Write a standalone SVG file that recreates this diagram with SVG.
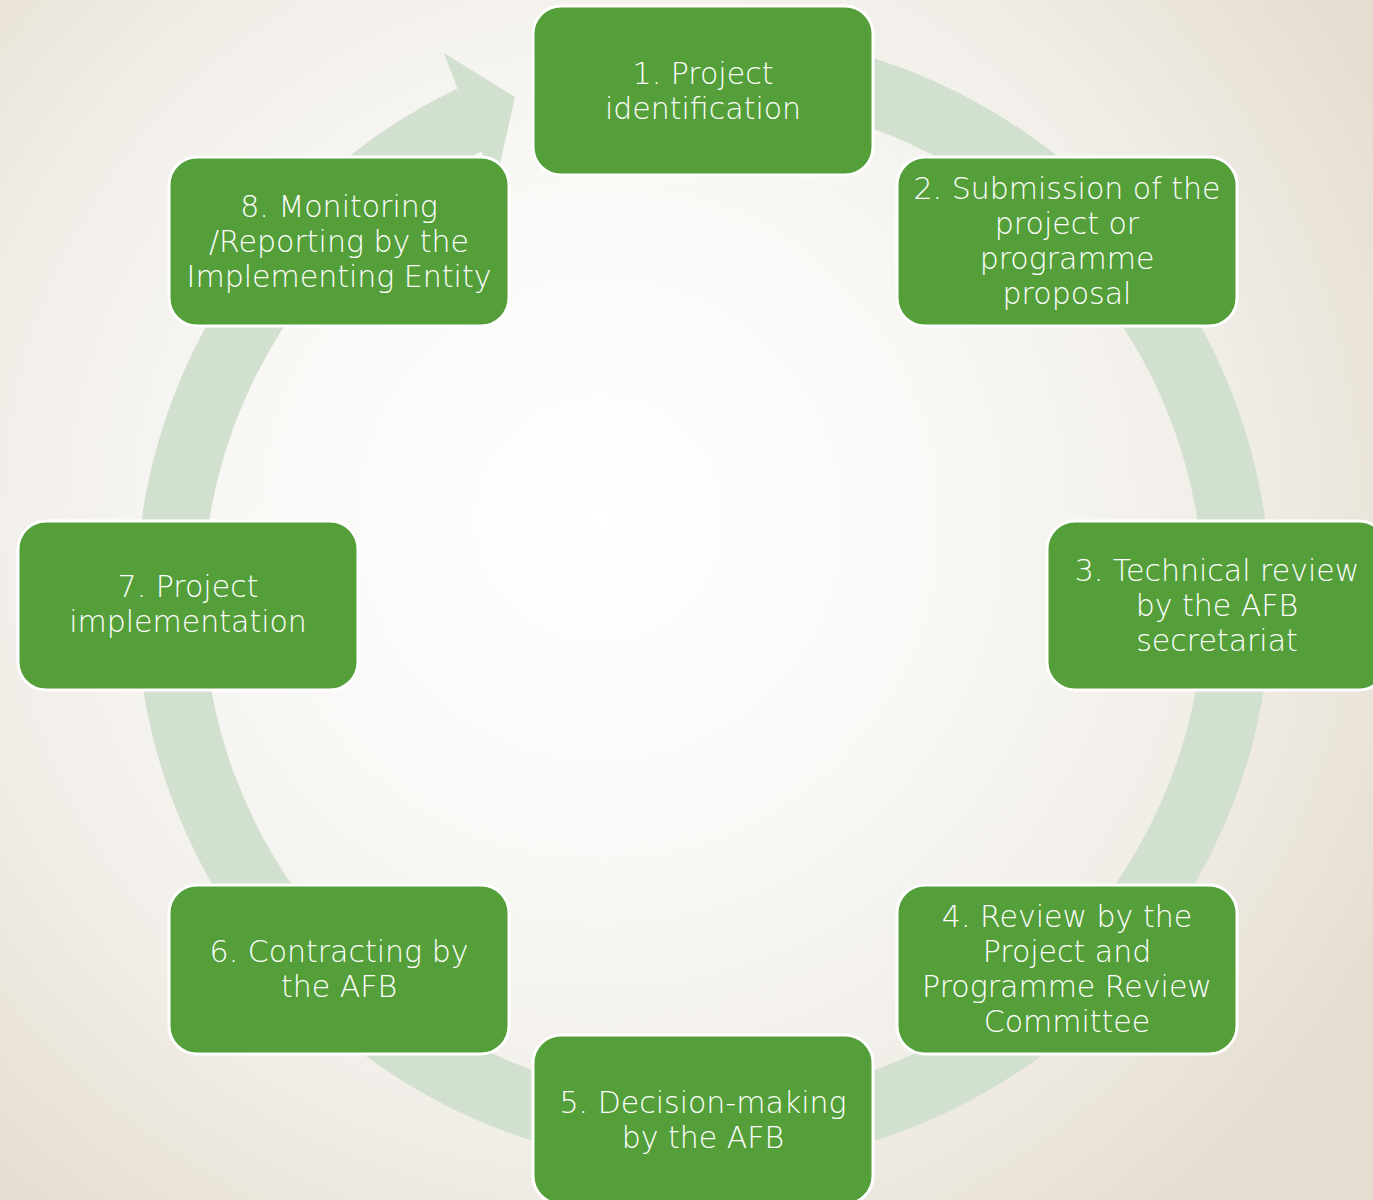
<svg xmlns="http://www.w3.org/2000/svg" width="1373" height="1200" viewBox="0 0 1373 1200">
  <defs>
    <radialGradient id="bg" cx="600" cy="520" r="900" gradientUnits="userSpaceOnUse">
      <stop offset="0" stop-color="#ffffff"/>
      <stop offset="0.35" stop-color="#faf9f7"/>
      <stop offset="0.7" stop-color="#f1eee8"/>
      <stop offset="1" stop-color="#e5ddcf"/>
    </radialGradient>
    <style>
      .node rect { fill: #549f3a; stroke: #ffffff; stroke-width: 3; }
      .node text { fill: #ffffff; font-family: "DejaVu Sans", "Liberation Sans", sans-serif; font-size: 30px; font-weight: 200; text-anchor: middle; }
      .ring { fill: none; stroke: #d1e0cf; stroke-width: 67; }
      .ringhead { fill: #d1e0cf; }
    </style>
  </defs>
  <rect x="0" y="0" width="1373" height="1200" fill="url(#bg)"/>

  <g id="connectors">
    <path class="ring" d="M 740 67 A 534 534 0 1 1 471.4 118.8"/>
    <polygon class="ringhead" points="458,90 444,53 515,97 496,182 482,153 470,120"/>
  </g>

  <g id="node1" class="node">
    <rect x="533" y="6" width="340" height="169" rx="28"/>
    <text x="703" y="84">1. Project</text>
    <text x="703" y="119">identification</text>
  </g>
  <g id="node2" class="node">
    <rect x="897" y="157" width="340" height="169" rx="28"/>
    <text x="1067" y="199">2. Submission of the</text>
    <text x="1067" y="234">project or</text>
    <text x="1067" y="269">programme</text>
    <text x="1067" y="304">proposal</text>
  </g>
  <g id="node3" class="node">
    <rect x="1047" y="521" width="340" height="169" rx="28"/>
    <text x="1217" y="581">3. Technical review</text>
    <text x="1217" y="616">by the AFB</text>
    <text x="1217" y="651">secretariat</text>
  </g>
  <g id="node4" class="node">
    <rect x="897" y="885" width="340" height="169" rx="28"/>
    <text x="1067" y="927">4. Review by the</text>
    <text x="1067" y="962">Project and</text>
    <text x="1067" y="997">Programme Review</text>
    <text x="1067" y="1032">Committee</text>
  </g>
  <g id="node5" class="node">
    <rect x="533" y="1035" width="340" height="169" rx="28"/>
    <text x="703" y="1113">5. Decision-making</text>
    <text x="703" y="1148">by the AFB</text>
  </g>
  <g id="node6" class="node">
    <rect x="169" y="885" width="340" height="169" rx="28"/>
    <text x="339" y="962">6. Contracting by</text>
    <text x="339" y="997">the AFB</text>
  </g>
  <g id="node7" class="node">
    <rect x="18" y="521" width="340" height="169" rx="28"/>
    <text x="188" y="597">7. Project</text>
    <text x="188" y="632">implementation</text>
  </g>
  <g id="node8" class="node">
    <rect x="169" y="157" width="340" height="169" rx="28"/>
    <text x="339" y="217">8. Monitoring</text>
    <text x="339" y="252">/Reporting by the</text>
    <text x="339" y="287">Implementing Entity</text>
  </g>
</svg>
